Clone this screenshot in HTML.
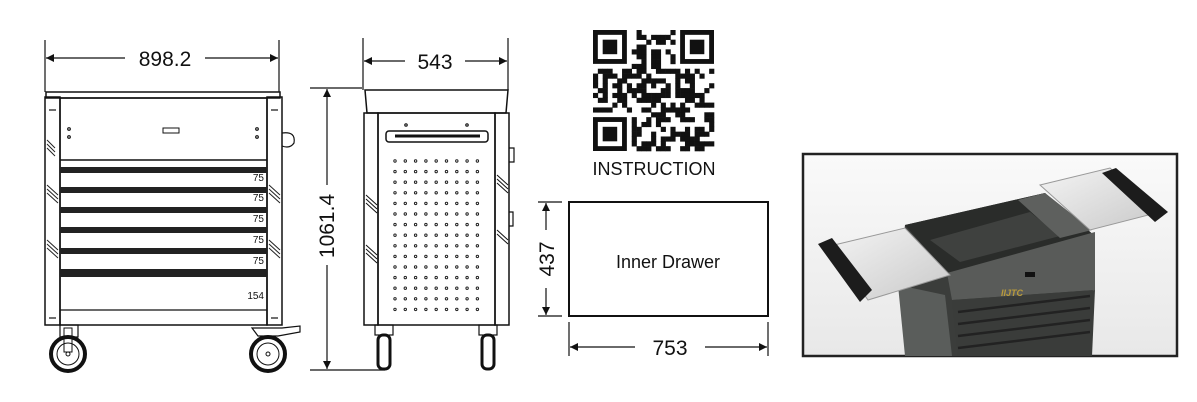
<!DOCTYPE html>
<html><head><meta charset="utf-8"><style>
html,body{margin:0;padding:0;background:#fff;width:1197px;height:402px;overflow:hidden}
svg{display:block}
text{font-family:"Liberation Sans",Arial,sans-serif;fill:#111}
</style></head><body>
<svg id="s" width="1197" height="402" viewBox="0 0 1197 402" xmlns="http://www.w3.org/2000/svg">
<defs>
<marker id="a" viewBox="0 0 10 10" refX="10" refY="5" markerWidth="14" markerHeight="8" orient="auto-start-reverse" markerUnits="userSpaceOnUse"><path d="M0,0 L10,5 L0,10z" fill="#111"/></marker>
<linearGradient id="silv" x1="0" y1="0" x2="1" y2="1"><stop offset="0" stop-color="#f4f4f4"/><stop offset="1" stop-color="#c9c9c9"/></linearGradient>
<linearGradient id="bg" x1="0" y1="0" x2="0" y2="1"><stop offset="0" stop-color="#fafafa"/><stop offset="1" stop-color="#e8e8e8"/></linearGradient>
</defs>
<g stroke="#111" fill="none" stroke-width="1.2">
<line x1="45" y1="40" x2="45" y2="92"/><line x1="279" y1="40" x2="279" y2="92"/>
<line x1="46" y1="58" x2="125" y2="58" marker-start="url(#a)"/><line x1="205" y1="58" x2="278" y2="58" marker-end="url(#a)"/>
<rect x="46" y="92" width="234" height="6" stroke-width="1.5"/>
<rect x="45" y="97" width="15" height="228" stroke-width="1.5"/>
<rect x="267" y="97" width="15" height="228" stroke-width="1.5"/>
<rect x="60" y="98" width="207" height="227" stroke-width="1.5"/>
<line x1="60" y1="160" x2="267" y2="160" stroke-width="1.5"/>
<rect x="163" y="128" width="16" height="5" stroke-width="1"/>
<circle cx="69" cy="129" r="1.3"/><circle cx="69" cy="137" r="1.3"/><circle cx="257" cy="129" r="1.3"/><circle cx="257" cy="137" r="1.3"/>
<path d="M282,133 q14,-2 12,10 q-4,6 -12,3"/>
<line x1="60" y1="310" x2="267" y2="310"/>
<line x1="49" y1="110" x2="56" y2="110"/><line x1="49" y1="318" x2="56" y2="318"/>
<line x1="271" y1="110" x2="278" y2="110"/><line x1="271" y1="318" x2="278" y2="318"/>
</g>
<g fill="#222">
<rect x="60" y="167" width="207" height="6"/><rect x="60" y="187" width="207" height="6"/><rect x="60" y="207" width="207" height="6"/>
<rect x="60" y="227" width="207" height="6"/><rect x="60" y="248" width="207" height="6"/><rect x="60" y="269" width="207" height="8"/>
<path d="M47,140 l8,8 M47,144 l8,8 M47,148 l8,8" stroke="#222"/>
<path d="M47,185 l11,10 M47,189 l11,10 M47,193 l11,10 M47,240 l11,10 M47,244 l11,10 M47,248 l11,10" stroke="#222"/>
<path d="M269,185 l11,10 M269,189 l11,10 M269,193 l11,10 M269,240 l11,10 M269,244 l11,10 M269,248 l11,10" stroke="#222"/>
</g>
<g font-size="10" text-anchor="end">
<text x="264" y="181">75</text><text x="264" y="201">75</text><text x="264" y="222">75</text><text x="264" y="243">75</text><text x="264" y="264">75</text><text x="264" y="299">154</text>
</g>
<g stroke="#111" fill="none">
<rect x="60" y="325" width="18" height="12" stroke-width="1.2"/>
<circle cx="68" cy="354" r="17" stroke-width="4"/><circle cx="68" cy="354" r="11" stroke-width="1"/><circle cx="68" cy="354" r="2"/>
<rect x="64" y="328" width="8" height="24"/>
<circle cx="268" cy="354" r="17" stroke-width="4"/><circle cx="268" cy="354" r="11" stroke-width="1"/><circle cx="268" cy="354" r="2"/>
<path d="M252,328 l30,0 l18,-2 l0,6 l-22,4 l-20,0z" stroke-width="1.2"/>
</g>
<text x="165" y="66" font-size="21" text-anchor="middle">898.2</text>

<g stroke="#111" fill="none" stroke-width="1.2">
<line x1="363" y1="38" x2="363" y2="90"/><line x1="508" y1="38" x2="508" y2="90"/>
<line x1="364" y1="61" x2="405" y2="61" marker-start="url(#a)"/><line x1="465" y1="61" x2="507" y2="61" marker-end="url(#a)"/>
<line x1="310" y1="88" x2="362" y2="88"/><line x1="310" y1="370" x2="385" y2="370"/>
<line x1="327" y1="89" x2="327" y2="185" marker-start="url(#a)"/><line x1="327" y1="265" x2="327" y2="369" marker-end="url(#a)"/>
<path d="M365,90 L508,90 L506,113 L367,113z" stroke-width="1.5"/>
<rect x="364" y="113" width="14" height="212" stroke-width="1.5"/>
<rect x="495" y="113" width="14" height="212" stroke-width="1.5"/>
<rect x="378" y="113" width="117" height="212" stroke-width="1.5"/>
<rect x="386" y="131" width="102" height="11" rx="3" stroke-width="1.5"/>
<line x1="395" y1="136" x2="480" y2="136" stroke-width="3"/>
<circle cx="406" cy="125" r="1.2"/><circle cx="467" cy="125" r="1.2"/>
<path d="M509,148 l5,0 0,14 -5,0 M509,212 l4,0 0,14 -4,0"/>
<path d="M366,195 l11,10 M366,199 l11,10 M366,203 l11,10 M366,245 l11,10 M366,249 l11,10 M366,253 l11,10 M497,175 l11,10 M497,179 l11,10 M497,183 l11,10 M497,230 l11,10 M497,234 l11,10" stroke-width="1"/>
<rect x="375" y="325" width="18" height="10"/><rect x="479" y="325" width="18" height="10"/>
<rect x="378" y="335" width="12" height="34" rx="5" stroke-width="3"/><rect x="482" y="335" width="12" height="34" rx="5" stroke-width="3"/>
</g>
<g id="dots" fill="none" stroke="#222" stroke-width="1"></g>
<text x="435" y="69" font-size="21" text-anchor="middle">543</text>
<text transform="translate(334,226) rotate(-90)" font-size="21" text-anchor="middle">1061.4</text>

<g id="qr" fill="#111"></g>
<text x="654" y="175" font-size="18" text-anchor="middle">INSTRUCTION</text>

<rect x="569" y="202" width="199" height="114" fill="none" stroke="#111" stroke-width="2"/>
<text x="668" y="268" font-size="18" text-anchor="middle">Inner Drawer</text>
<g stroke="#111" stroke-width="1.2" fill="none">
<line x1="538" y1="202" x2="562" y2="202"/><line x1="538" y1="316" x2="562" y2="316"/>
<line x1="546" y1="203" x2="546" y2="230" marker-start="url(#a)"/><line x1="546" y1="288" x2="546" y2="315" marker-end="url(#a)"/>
<line x1="569" y1="322" x2="569" y2="356"/><line x1="768" y1="322" x2="768" y2="356"/>
<line x1="570" y1="347" x2="635" y2="347" marker-start="url(#a)"/><line x1="705" y1="347" x2="767" y2="347" marker-end="url(#a)"/>
</g>
<text transform="translate(554,259) rotate(-90)" font-size="21" text-anchor="middle">437</text>
<text x="670" y="355" font-size="21" text-anchor="middle">753</text>

<rect x="803" y="154" width="374" height="202" fill="url(#bg)" stroke="#222" stroke-width="2.5"/>
<polygon points="905,225 1045,193 1095,240 1090,356 910,356 898,285" fill="#3b3d3b"/>
<polygon points="905,225 1045,193 1095,236 947,273" fill="#2a2c2a"/>
<polygon points="930,240 1030,212 1060,236 960,262" fill="#3f413f"/>
<polygon points="947,273 1095,232 1095,290 952,300" fill="#595b59"/>
<polygon points="952,300 1095,290 1092,356 958,356" fill="#3a3c3a"/>
<g stroke="#222" stroke-width="2.5"><line x1="958" y1="312" x2="1090" y2="296"/><line x1="958" y1="324" x2="1090" y2="308"/><line x1="958" y1="336" x2="1090" y2="320"/><line x1="958" y1="348" x2="1090" y2="332"/></g>
<polygon points="898,285 945,295 952,356 905,356" fill="#5a5d5b"/>
<polygon points="1018,200 1045,193 1092,230 1060,238" fill="#5e605e"/>
<polygon points="830,246 905,228 950,275 868,300" fill="url(#silv)" stroke="#999"/>
<polygon points="1040,185 1110,168 1160,212 1090,230" fill="url(#silv)" stroke="#999"/>
<polygon points="818,244 832,238 872,290 860,302" fill="#1c1c1c"/>
<polygon points="1102,173 1116,168 1168,212 1155,222" fill="#1c1c1c"/>
<rect x="1025" y="272" width="10" height="5" fill="#111"/>
<text x="1001" y="296" font-size="9" style="fill:#b89a3c;font-style:italic;font-weight:bold">IIJTC</text>
</svg>
<script>
(function(){
var ns="http://www.w3.org/2000/svg";
var d=document.getElementById("dots");
for(var r=0;r<15;r++)for(var c=0;c<9;c++){var e=document.createElementNS(ns,"circle");e.setAttribute("cx",395+c*10.3);e.setAttribute("cy",161+r*10.6);e.setAttribute("r",1.2);d.appendChild(e);}
var q=document.getElementById("qr");var N=25,s=4.84,x0=593,y0=30;var seed=7;
function rnd(){seed=(seed*1103515245+12345)&0x7fffffff;return seed/0x7fffffff;}
function rect(x,y,w,h,f){var e=document.createElementNS(ns,"rect");e.setAttribute("x",x);e.setAttribute("y",y);e.setAttribute("width",w);e.setAttribute("height",h);if(f)e.setAttribute("fill",f);q.appendChild(e);}
function fin(i,j){return (i<8&&j<8)||(i<8&&j>=N-8)||(i>=N-8&&j<8);}
for(var i=0;i<N;i++)for(var j=0;j<N;j++){if(fin(i,j))continue;if(rnd()<0.52)rect(x0+j*s,y0+i*s,s+0.3,s+0.3);}
[[0,0],[0,N-7],[N-7,0]].forEach(function(p){var x=x0+p[1]*s,y=y0+p[0]*s;rect(x,y,7*s,7*s);rect(x+s,y+s,5*s,5*s,"#fff");rect(x+2*s,y+2*s,3*s,3*s);});
})();
</script>
</body></html>
